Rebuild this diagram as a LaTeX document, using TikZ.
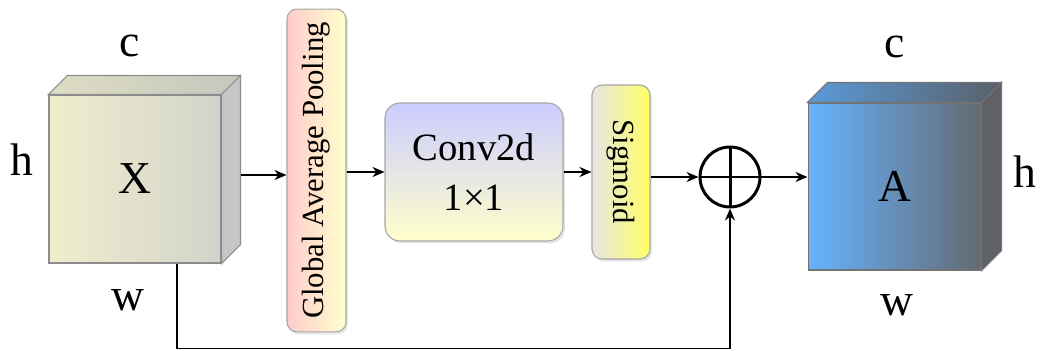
\documentclass[tikz,border=0pt]{standalone}
\usepackage{fontspec}
\setmainfont{Liberation Serif}
\usepackage{graphicx}
\usetikzlibrary{arrows.meta,shadows}

\definecolor{xfrontl}{HTML}{EEEECC}
\definecolor{xfrontr}{HTML}{D3D3CB}
\definecolor{xtopl}{HTML}{DEDEC4}
\definecolor{xtopr}{HTML}{C6C6BE}
\definecolor{xside}{HTML}{C6C6C6}
\definecolor{afrontl}{HTML}{66B3FF}
\definecolor{afrontr}{HTML}{646A72}
\definecolor{atopl}{HTML}{5A9AD8}
\definecolor{atopr}{HTML}{5A606A}
\definecolor{aside}{HTML}{5E6166}

\tikzset{
    arr/.style={-{Stealth[length=0.24cm,width=0.2cm]}, line width=1pt},
    face/.style={draw=black!45, line width=0.6pt},
    layerbox/.style={draw=black!35, line width=0.6pt, rounded corners=0.2cm,
        drop shadow={opacity=0.2, shadow xshift=0.04cm, shadow yshift=-0.05cm}},
    letter/.style={font=\fontsize{26}{30}\selectfont},
}

\begin{document}
\begin{tikzpicture}[x=0.02cm, y=-0.02cm]
    \useasboundingbox (0,0) rectangle (1043,351);

    % input cube X
    \node[face, minimum width=3.44cm, minimum height=3.36cm, inner sep=0pt,
        left color=xfrontl, right color=xfrontr, letter] (X) at (135,179) {X};
    \draw[face, left color=xtopl, right color=xtopr]
        (X.north west) -- ++(19,-19) -- ([shift={(19,-19)}]X.north east) -- (X.north east) -- cycle;
    \draw[face, fill=xside]
        (X.north east) -- ++(19,-19) -- ([shift={(19,-19)}]X.south east) -- (X.south east) -- cycle;
    \node[letter] (xc) at (130,46) {c};
    \node[letter] (xh) at (22,160) {h};
    \node[letter] (xw) at (128,300) {w};

    % squeeze branch
    \node[layerbox, minimum width=1.18cm, minimum height=6.46cm, inner sep=0pt,
        left color=red!20, right color=yellow!20,
        font=\fontsize{17.5}{20}\selectfont] (gap) at (316.5,170.5)
        {\rotatebox{90}{Global Average Pooling}};
    \node[layerbox, minimum width=3.56cm, minimum height=2.76cm, inner sep=0pt,
        rounded corners=0.3cm, top color=blue!20, bottom color=yellow!20,
        align=center, font=\fontsize{22}{28}\selectfont] (conv) at (474,172)
        {Conv2d\\1×1};
    \node[layerbox, minimum width=1.16cm, minimum height=3.48cm, inner sep=0pt,
        left color=black!10, right color=yellow!60,
        font=\fontsize{17.5}{20}\selectfont] (sig) at (621,172)
        {\rotatebox{-90}{Sigmoid}};

    % sum
    \node[circle, draw, line width=1.7pt, minimum size=1.2cm, inner sep=0pt] (plus) at (730,177) {};
    \draw[line width=1.7pt] (plus.north) -- (plus.south);
    \draw[line width=1.7pt] (plus.west) -- (plus.east);

    % output cube A
    \node[face, draw=black!55, minimum width=3.46cm, minimum height=3.34cm, inner sep=0pt,
        left color=afrontl, right color=afrontr, letter] (A) at (894.5,186.5) {A};
    \draw[face, draw=black!55, left color=atopl, right color=atopr]
        (A.north west) -- ++(20,-20) -- ([shift={(20,-20)}]A.north east) -- (A.north east) -- cycle;
    \draw[face, draw=black!55, fill=aside]
        (A.north east) -- ++(20,-20) -- ([shift={(20,-20)}]A.south east) -- (A.south east) -- cycle;
    \node[letter] (ac) at (895,47) {c};
    \node[letter] (ah) at (1025,172) {h};
    \node[letter] (aw) at (897,305) {w};

    % connectors
    \coordinate (xout) at ([shift={(19,-4)}]X.east);
    \draw[arr] (xout) -- (xout -| gap.west);
    \draw[arr] (gap.east |- conv.west) -- (conv.west);
    \draw[arr] (conv.east) -- (conv.east -| sig.west);
    \draw[arr] (sig.east |- plus.west) -- (plus.west);
    \draw[arr] (plus.east) -- (plus.east -| A.west);
    % skip path from X to the sum
    \draw[arr] ([xshift=0.84cm]X.south) -- ++(0,85) -| (plus.south);
\end{tikzpicture}
\end{document}
